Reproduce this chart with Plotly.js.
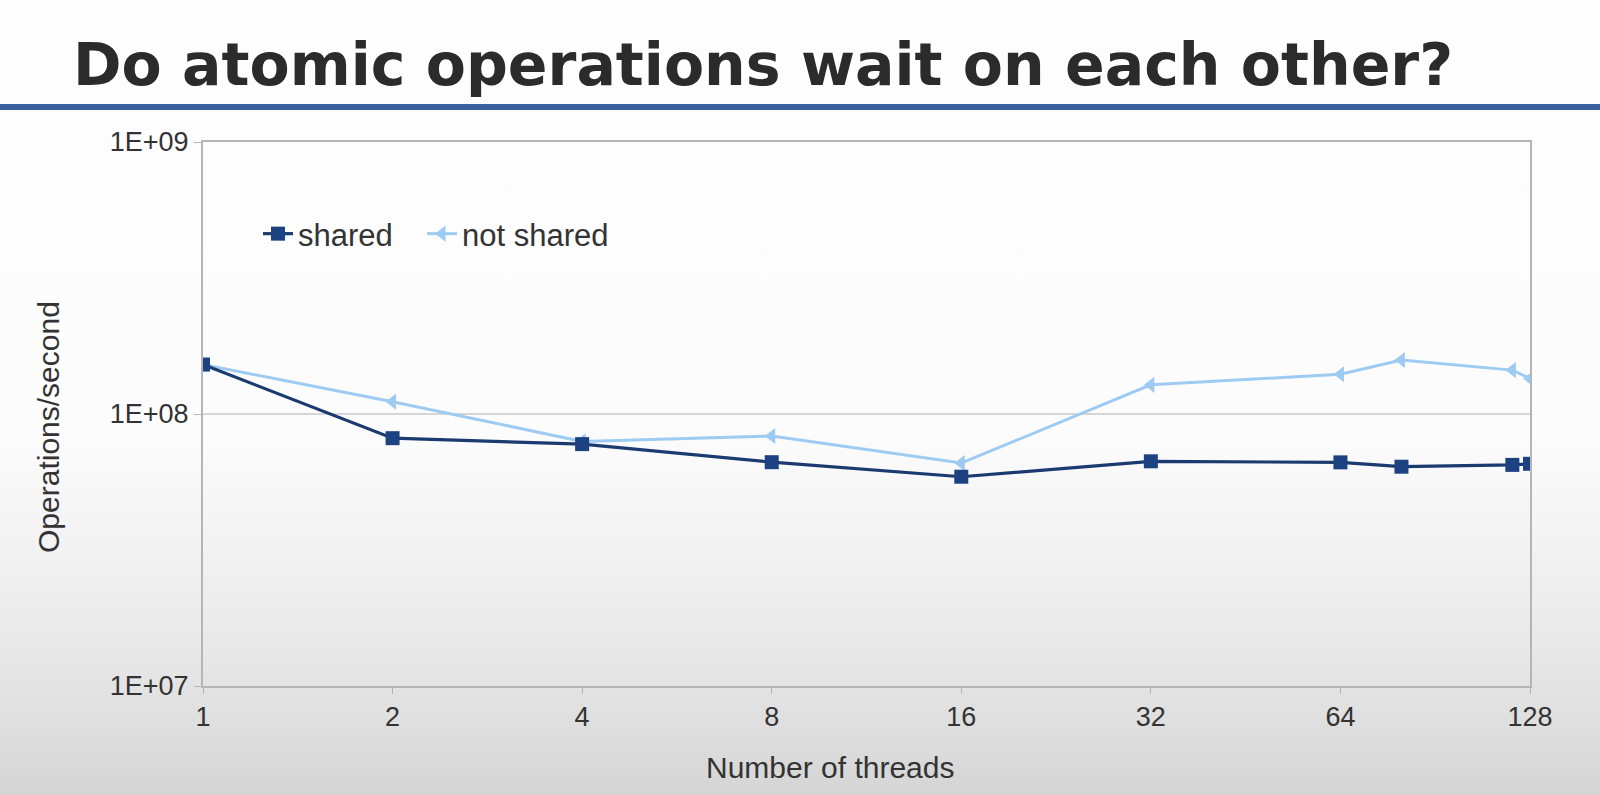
<!DOCTYPE html>
<html>
<head>
<meta charset="utf-8">
<script src="https://cdn.plot.ly/plotly-3.0.1.min.js"></script>
<style>
  html, body { margin: 0; padding: 0; }
  body {
    width: 1600px; height: 795px; overflow: hidden;
    background: linear-gradient(to bottom, #fdfdfd 0px, #fcfcfc 430px, #f3f3f3 540px, #e8e8e8 650px, #dedede 730px, #d5d5d5 795px);
  }
  #chart { width: 1600px; height: 795px; }
</style>
</head>
<body>
<div id="chart"></div>
<script>
// Data
const threads = [1, 2, 4, 8, 16, 32, 64, 80, 120, 128];
const sharedOps = [1.52e8, 8.15e7, 7.75e7, 6.65e7, 5.88e7, 6.7e7, 6.64e7, 6.4e7, 6.5e7, 6.56e7];
const notSharedOps = [1.52e8, 1.11e8, 7.93e7, 8.3e7, 6.6e7, 1.28e8, 1.4e8, 1.58e8, 1.45e8, 1.35e8];
const xTickVals = [1, 2, 4, 8, 16, 32, 64, 128];
const xTickText = ['1', '2', '4', '8', '16', '32', '64', '128'];
const yTickVals = [1e7, 1e8, 1e9];
const yTickText = ['1E+07', '1E+08', '1E+09'];

const W = 1600, H = 795;
const mL = 203, mR = 70, mT = 142, mB = 109;
const plotW = W - mL - mR, plotH = H - mT - mB;

const traces = [
  {
    x: threads, y: notSharedOps, name: 'not shared', type: 'scatter', mode: 'lines+markers',
    line: { color: '#9dcbf2', width: 3 },
    marker: { symbol: 'triangle-left', size: 14, color: '#9dcbf2' },
    legend: 'legend2'
  },
  {
    x: threads, y: sharedOps, name: 'shared', type: 'scatter', mode: 'lines+markers',
    line: { color: '#1b3b70', width: 3.2 },
    marker: { symbol: 'square', size: 14, color: '#1d4282' },
    legend: 'legend'
  }
];

const fam = 'Liberation Sans, Arial, sans-serif';
const axisFont = { family: fam, size: 27, color: '#333333' };
const titleFont = { family: fam, size: 30, color: '#333333' };
const legendFont = { family: fam, size: 31, color: '#333333' };
const legendY = (H - mB - 234) / plotH;

const layout = {
  width: W, height: H,
  margin: { l: mL, r: mR, t: mT, b: mB, pad: 0 },
  paper_bgcolor: 'rgba(0,0,0,0)',
  plot_bgcolor: 'rgba(0,0,0,0)',
  title: {
    text: 'Do atomic operations wait on each other?',
    font: { family: 'DejaVu Sans, sans-serif', size: 58.5, weight: 700, color: '#2b2b2b' },
    xref: 'container', x: 73 / W, xanchor: 'left',
    yref: 'container', y: 1 - 65 / H, yanchor: 'middle'
  },
  showlegend: true,
  legend: {
    orientation: 'h',
    x: (258 - mL) / plotW, xanchor: 'left',
    y: legendY, yanchor: 'middle',
    bgcolor: 'rgba(0,0,0,0)',
    font: legendFont
  },
  legend2: {
    orientation: 'h',
    x: (422 - mL) / plotW, xanchor: 'left',
    y: legendY, yanchor: 'middle',
    bgcolor: 'rgba(0,0,0,0)',
    font: legendFont
  },
  xaxis: {
    type: 'log',
    range: [0, Math.log10(128)],
    tickvals: xTickVals, ticktext: xTickText,
    tickfont: axisFont,
    ticks: 'outside', ticklen: 6, tickcolor: '#b5b5b5', tickwidth: 1,
    showline: true, linecolor: '#b5b5b5', linewidth: 2, mirror: true,
    showgrid: false, zeroline: false
  },
  yaxis: {
    type: 'log',
    range: [7, 9],
    tickvals: yTickVals, ticktext: yTickText,
    tickfont: axisFont,
    ticks: 'outside', ticklen: 7, tickcolor: '#b5b5b5', tickwidth: 1,
    showline: true, linecolor: '#b5b5b5', linewidth: 2, mirror: true,
    showgrid: true, gridcolor: '#d6d6d6', gridwidth: 2, zeroline: false
  },
  annotations: [
    {
      text: 'Number of threads', font: titleFont, showarrow: false,
      xref: 'paper', yref: 'paper',
      x: (830 - mL) / plotW, xanchor: 'center',
      y: (H - mB - 767) / plotH, yanchor: 'middle'
    },
    {
      text: 'Operations/second', font: titleFont, showarrow: false, textangle: -90,
      xref: 'paper', yref: 'paper',
      x: (48 - mL) / plotW, xanchor: 'center',
      y: (H - mB - 427) / plotH, yanchor: 'middle'
    }
  ],
  shapes: [
    {
      type: 'line', xref: 'paper', yref: 'paper',
      x0: -mL / plotW, x1: (W - mL) / plotW,
      y0: (H - mB - 107) / plotH, y1: (H - mB - 107) / plotH,
      line: { color: '#3a619c', width: 6 }
    }
  ]
};

Plotly.newPlot('chart', traces, layout, { displayModeBar: false, staticPlot: true });
</script>
</body>
</html>
